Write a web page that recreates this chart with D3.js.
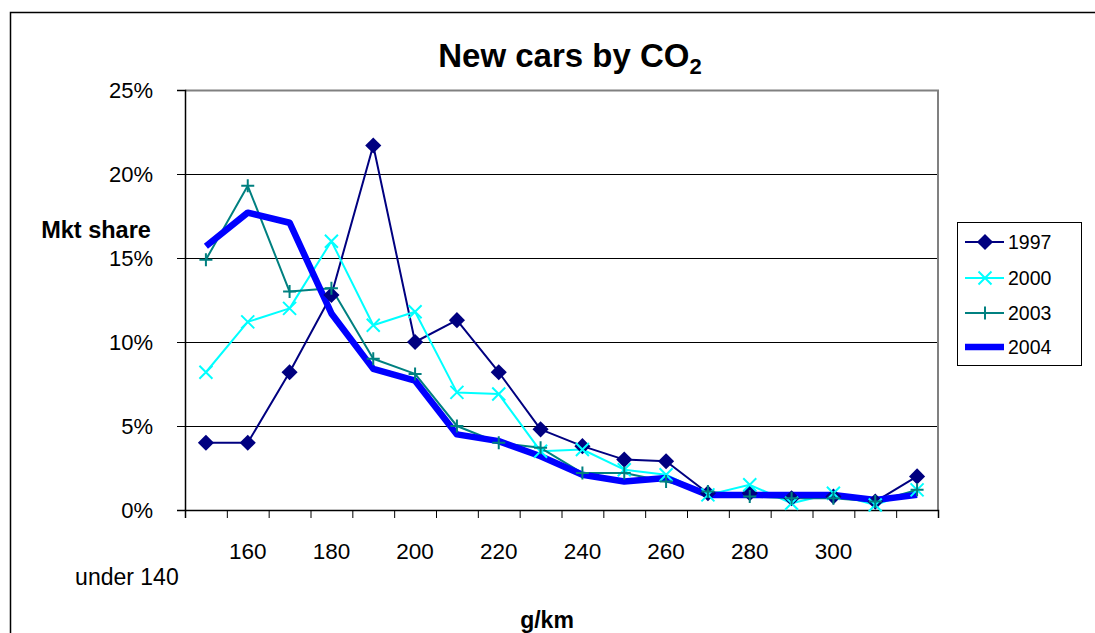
<!DOCTYPE html>
<html>
<head>
<meta charset="utf-8">
<script src="https://cdn.jsdelivr.net/npm/d3@7/dist/d3.min.js"></script>
<style>
  html, body { margin: 0; padding: 0; background: #fff; }
  svg { display: block; font-family: "Liberation Sans", Arial, sans-serif; }
</style>
</head>
<body>
<svg id="chart" width="1095" height="633"></svg>
<script>
// CO2 emission bands (g/km) for new cars
const categories = ["under 140", "160", "170", "180", "190", "200", "210", "220", "230",
                    "240", "250", "260", "270", "280", "290", "300", "310", "over 310"];
// Labels shown under the axis
const shownLabels = ["160", "180", "200", "220", "240", "260", "280", "300"];
const firstLabel = "under 140";

// Market share per band (fraction of new cars)
const share1997 = [0.040, 0.040, 0.082, 0.128, 0.217, 0.100, 0.113, 0.082, 0.048,
                   0.038, 0.030, 0.029, 0.010, 0.010, 0.007, 0.008, 0.005, 0.020];
const share2000 = [0.082, 0.112, 0.120, 0.160, 0.110, 0.118, 0.070, 0.069, 0.035,
                   0.036, 0.024, 0.021, 0.009, 0.015, 0.004, 0.010, 0.003, 0.012];
const share2003 = [0.149, 0.193, 0.130, 0.132, 0.090, 0.081, 0.050, 0.040, 0.037,
                   0.022, 0.022, 0.017, 0.011, 0.008, 0.007, 0.007, 0.005, 0.012];
const share2004 = [0.157, 0.177, 0.171, 0.117, 0.084, 0.077, 0.045, 0.041, 0.032,
                   0.021, 0.017, 0.019, 0.009, 0.009, 0.009, 0.009, 0.006, 0.009];

const yTicks = [0, 0.05, 0.10, 0.15, 0.20, 0.25];

const series = [
  { name: "1997", values: share1997, color: "#000080", width: 2,   marker: "diamond" },
  { name: "2000", values: share2000, color: "#00FFFF", width: 2,   marker: "x" },
  { name: "2003", values: share2003, color: "#008080", width: 2,   marker: "plus" },
  { name: "2004", values: share2004, color: "#0000FF", width: 6.5, marker: "none" }
];

const svg = d3.select("#chart");
const plot = { left: 185, right: 938, top: 90, bottom: 510 };

// Outer chart frame
svg.append("rect")
  .attr("x", 10.5).attr("y", 12.5)
  .attr("width", 1100).attr("height", 640)
  .attr("fill", "#fff").attr("stroke", "#000").attr("stroke-width", 1.5);

const x = d3.scalePoint().domain(categories)
  .range([plot.left, plot.right]).padding(0.5);
const xEdge = d3.scaleLinear().domain([0, categories.length]).range([plot.left, plot.right]);
const y = d3.scaleLinear().domain([0, 0.25]).range([plot.bottom, plot.top]);

// Horizontal gridlines
svg.append("g")
  .selectAll("line")
  .data(yTicks.filter(t => t > 0 && t < 0.25))
  .join("line")
  .attr("x1", plot.left).attr("x2", plot.right)
  .attr("y1", d => Math.round(y(d)) + 0.5).attr("y2", d => Math.round(y(d)) + 0.5)
  .attr("stroke", "#000").attr("stroke-width", 1);

// Plot area border (top and right)
svg.append("path")
  .attr("d", `M${plot.left},${plot.top + 0.5}H${plot.right}V${plot.bottom}`)
  .attr("fill", "none").attr("stroke", "#808080").attr("stroke-width", 2);

// Y axis
const yAxis = svg.append("g")
  .attr("transform", `translate(${plot.left},0)`)
  .call(d3.axisLeft(y).tickValues(yTicks).tickFormat(d3.format(".0%")).tickSize(8).tickPadding(24));
yAxis.select(".domain").attr("stroke", "#000").attr("stroke-width", 1.5);
yAxis.selectAll(".tick line").attr("stroke", "#000");
yAxis.selectAll("text").attr("font-size", 22).attr("fill", "#000")
  .attr("font-family", "'Liberation Sans', Arial, sans-serif");

// X axis with ticks on the band boundaries
const xAxis = svg.append("g")
  .attr("transform", `translate(0,${plot.bottom})`)
  .call(d3.axisBottom(xEdge).tickValues(d3.range(categories.length + 1)).tickFormat("").tickSize(8));
xAxis.select(".domain").attr("stroke", "#000").attr("stroke-width", 1.5);
xAxis.selectAll(".tick line").attr("stroke", "#000");

// X tick labels
svg.append("g")
  .selectAll("text")
  .data(shownLabels)
  .join("text")
  .attr("x", d => x(d)).attr("y", 559)
  .attr("text-anchor", "middle").attr("font-size", 22.5)
  .text(d => d);
svg.append("text")
  .attr("x", x(firstLabel) - 79).attr("y", 585)
  .attr("text-anchor", "middle").attr("font-size", 23)
  .text(firstLabel);

// Axis titles
svg.append("text")
  .attr("x", 547).attr("y", 628)
  .attr("text-anchor", "middle").attr("font-size", 23).attr("font-weight", "bold")
  .text("g/km");
svg.append("text")
  .attr("x", 96).attr("y", 238)
  .attr("text-anchor", "middle").attr("font-size", 23.5).attr("font-weight", "bold")
  .text("Mkt share");

// Title with subscript
const title = svg.append("text")
  .attr("x", 570).attr("y", 67)
  .attr("text-anchor", "middle").attr("font-size", 33).attr("font-weight", "bold");
title.append("tspan").text("New cars by CO");
title.append("tspan").attr("font-size", 22).attr("dy", 7).text("2");

// Series lines
const line = d3.line().x((d, i) => x(categories[i])).y(d => y(d));
svg.append("g")
  .selectAll("path")
  .data(series)
  .join("path")
  .attr("d", s => line(s.values))
  .attr("fill", "none")
  .attr("stroke", s => s.color)
  .attr("stroke-width", s => s.width)
  .attr("stroke-linejoin", "round");

// Markers
function drawMarker(g, type, color, cx, cy) {
  if (type === "diamond") {
    g.append("path")
      .attr("d", d3.symbol(d3.symbolSquare, 130)())
      .attr("transform", `translate(${cx},${cy}) rotate(45)`)
      .attr("fill", color);
  } else if (type === "x") {
    const r = 6.5;
    g.append("path")
      .attr("d", `M${cx - r},${cy - r}L${cx + r},${cy + r}M${cx - r},${cy + r}L${cx + r},${cy - r}`)
      .attr("stroke", color).attr("stroke-width", 2).attr("fill", "none");
  } else if (type === "plus") {
    const r = 6.5;
    g.append("path")
      .attr("d", `M${cx - r},${cy}L${cx + r},${cy}M${cx},${cy - r}L${cx},${cy + r}`)
      .attr("stroke", color).attr("stroke-width", 2).attr("fill", "none");
  }
}
const markerLayer = svg.append("g");
series.forEach(s => {
  if (s.marker === "none") return;
  s.values.forEach((v, i) => drawMarker(markerLayer, s.marker, s.color, x(categories[i]), y(v)));
});

// Legend
const legend = { x: 957, y: 222, w: 124, h: 143 };
svg.append("rect")
  .attr("x", legend.x + 0.5).attr("y", legend.y + 0.5)
  .attr("width", legend.w).attr("height", legend.h)
  .attr("fill", "#fff").attr("stroke", "#000").attr("stroke-width", 1);
const legendRows = [242, 278, 313, 347];
series.forEach((s, i) => {
  const ly = legendRows[i];
  const g = svg.append("g");
  g.append("line")
    .attr("x1", legend.x + 8).attr("x2", legend.x + 47)
    .attr("y1", ly).attr("y2", ly)
    .attr("stroke", s.color).attr("stroke-width", s.width);
  drawMarker(g, s.marker, s.color, legend.x + 28, ly);
  g.append("text")
    .attr("x", legend.x + 51).attr("y", ly + 7)
    .attr("font-size", 19.5).text(s.name);
});
</script>
</body>
</html>
